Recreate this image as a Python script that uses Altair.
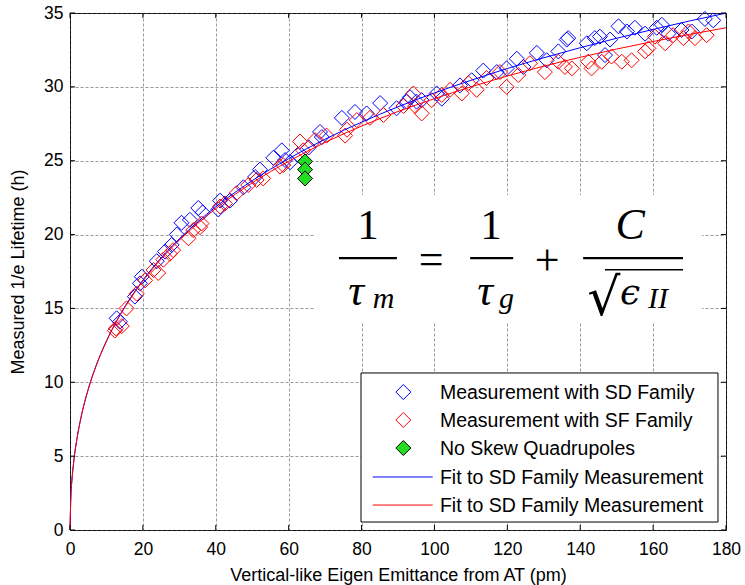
import altair as alt
import pandas as pd

# ---------------- data ----------------
sd_x = [12.8, 13.7, 17.8, 19.2, 19.7, 23.8, 26.1, 27.9, 29.3, 30.6, 32.9, 35.2, 36.4, 40.7, 41.2,
        43.9, 47.6, 50.8, 52.1, 55.8, 58.1, 59.0, 60.4, 62.5, 65.5, 68.6, 69.1, 74.6, 78.2, 81.4,
        85.1, 89.6, 92.4, 93.3, 95.1, 96.5, 100.6, 102.0, 107.0, 110.2, 113.4, 117.1, 119.8,
        122.6, 124.4, 128.1, 130.8, 134.0, 136.3, 136.7, 141.8, 144.0, 145.4, 146.8, 148.2,
        150.5, 152.8, 155.0, 157.8, 161.0, 162.4, 164.2, 167.8, 170.6, 174.2, 176.5]
sd_y = [14.33, 14.1, 15.8, 16.7, 17.15, 18.2, 18.85, 19.3, 20.0, 20.8, 21.0, 21.8, 21.5, 21.7, 22.3,
        22.3, 23.2, 23.9, 24.4, 25.2, 25.7, 25.05, 24.9, 25.4, 25.9, 26.95, 26.6, 27.9, 28.3, 28.2,
        28.9, 28.55, 29.0, 29.3, 29.0, 29.1, 29.55, 29.2, 30.1, 30.45, 31.1, 31.0, 31.25,
        31.9, 31.35, 32.3, 31.8, 32.4, 33.2, 33.3, 32.95, 33.3, 33.4, 32.15, 33.2,
        34.1, 33.75, 34.0, 33.6, 34.0, 34.2, 33.6, 33.85, 33.75, 34.6, 34.5]

sf_x = [12.3, 12.6, 14.2, 15.5, 18.3, 20.6, 22.9, 24.2, 25.6, 27.4, 28.3, 32.5, 33.8, 35.7, 36.1,
        41.2, 42.5, 45.7, 48.9, 51.2, 53.0, 57.6, 58.5, 63.1, 64.0, 67.2, 70.4, 75.5, 76.0, 78.7,
        82.3, 86.0, 91.5, 94.2, 94.7, 96.5, 99.2, 102.0, 104.3, 107.5, 109.3, 111.6, 114.3,
        118.0, 119.8, 123.0, 126.2, 130.3, 134.0, 135.8, 137.7, 142.2, 143.1, 145.9, 148.6,
        151.4, 154.1, 157.8, 158.7, 160.5, 163.3, 165.5, 168.3, 169.7, 171.5, 174.7]
sf_y = [13.5, 13.65, 13.8, 15.0, 16.0, 16.9, 17.6, 17.4, 18.3, 18.7, 18.95, 19.75, 20.3, 20.5, 20.75,
        21.9, 22.1, 22.8, 23.35, 23.7, 23.8, 24.6, 24.7, 26.3, 25.7, 26.4, 26.7, 26.7, 27.1, 27.75,
        27.9, 28.1, 28.7, 29.55, 28.7, 28.2, 29.1, 29.45, 29.8, 29.55, 30.25, 29.8, 30.6,
        31.0, 30.0, 30.8, 31.6, 31.0, 31.7, 31.35, 31.25, 31.7, 31.25, 31.7, 32.05,
        31.7, 31.8, 32.4, 32.6, 33.4, 32.95, 33.5, 33.3, 33.75, 33.3, 33.5]

nsq_x = [64.5, 64.5, 64.5]
nsq_y = [24.95, 24.4, 23.8]

fit_x = [0, 0.25, 0.5, 1, 2, 3, 5, 7, 10, 13, 16, 20, 25, 30, 35, 40, 50, 60, 70, 80, 90,
         100, 110, 120, 130, 140, 150, 160, 170, 180]
fit_sd_y = [0, 2.36, 3.30, 4.58, 6.32, 7.60, 9.53, 11.02, 12.80, 14.26, 15.49, 16.91, 18.42,
            19.71, 20.85, 21.88, 23.65, 25.14, 26.46, 27.61, 28.65, 29.59, 30.44, 31.24, 31.97,
            32.65, 33.29, 33.89, 34.46, 34.99]
fit_sf_y = [0, 2.36, 3.30, 4.58, 6.31, 7.59, 9.51, 11.0, 12.77, 14.22, 15.44, 16.85, 18.35,
            19.62, 20.74, 21.76, 23.5, 24.96, 26.24, 27.34, 28.33, 29.2, 30.0, 30.73, 31.4,
            32.0, 32.56, 33.07, 33.55, 34.0]

x_ticks = [0, 20, 40, 60, 80, 100, 120, 140, 160, 180]
y_ticks = [0, 5, 10, 15, 20, 25, 30, 35]

legend_labels = ["Measurement with SD Family", "Measurement with SF Family",
                 "No Skew Quadrupoles", "Fit to SD Family Measurement",
                 "Fit to SD Family Measurement"]

x_title = "Vertical-like Eigen Emittance from AT (pm)"
y_title = "Measured 1/e Lifetime (h)"

BLUE = "#0000ff"
RED = "#ff0000"
GREEN = "#22dd22"
SANS = "Liberation Sans"
W, H = 656, 517
PT = 225  # marker area

# ---------------- scales / axes ----------------
XS = alt.Scale(domain=[0, 180], nice=False, zero=False)
YS = alt.Scale(domain=[0, 35], nice=False, zero=False)
xaxis = alt.Axis(title=x_title, values=x_ticks, format="d", grid=True, ticks=False, tickSize=0,
                 domain=False, labelPadding=10, labelFontSize=17.5, labelFont=SANS,
                 labelColor="black", titleFont=SANS, titleFontSize=18, titleFontWeight="normal",
                 titleColor="black", titleY=50, titleBaseline="alphabetic", labelFlush=False)
yaxis = alt.Axis(title=y_title, values=y_ticks, format="d", grid=True, ticks=False, tickSize=0,
                 domain=False, labelPadding=7, labelFontSize=17.5, labelFont=SANS,
                 labelColor="black", titleFont=SANS, titleFontSize=18, titleFontWeight="normal",
                 titleColor="black", titleX=-52, titleY=H / 2, titleBaseline="middle",
                 titleAngle=-90, labelFlush=False)


def X(f="x"):
    return alt.X(f, type="quantitative", scale=XS, axis=xaxis)


def Y(f="y"):
    return alt.Y(f, type="quantitative", scale=YS, axis=yaxis)


def df(**kw):
    return pd.DataFrame(kw)


layers = []

# white box behind the formula
layers.append(alt.Chart(df(x=[67.2], x2=[173.4], y=[14.08], y2=[22.68])).mark_rect(
    fill="white", stroke=None).encode(x=X(), x2="x2", y=Y(), y2="y2"))

# data
layers.append(alt.Chart(df(x=sd_x, y=sd_y)).mark_point(
    shape="diamond", filled=False, color=BLUE, size=PT, strokeWidth=1, opacity=1
).encode(x=X(), y=Y()))
layers.append(alt.Chart(df(x=sf_x, y=sf_y)).mark_point(
    shape="diamond", filled=False, color=RED, size=PT, strokeWidth=1, opacity=1
).encode(x=X(), y=Y()))
layers.append(alt.Chart(df(x=nsq_x, y=nsq_y)).mark_point(
    shape="diamond", filled=True, fill=GREEN, stroke="black", size=PT, strokeWidth=1, opacity=1
).encode(x=X(), y=Y()))
layers.append(alt.Chart(df(x=fit_x, y=fit_sd_y)).mark_line(
    color=BLUE, strokeWidth=1, interpolate="monotone").encode(x=X(), y=Y()))
layers.append(alt.Chart(df(x=fit_x, y=fit_sf_y)).mark_line(
    color=RED, strokeWidth=1, interpolate="monotone").encode(x=X(), y=Y()))

# inward ticks on all four sides
tx = df(x=x_ticks)
ty = df(y=y_ticks)
layers.append(alt.Chart(tx).mark_rule(color="black", strokeWidth=1).encode(
    x=X(), y=alt.value(H), y2=alt.value(H - 5)))
layers.append(alt.Chart(tx).mark_rule(color="black", strokeWidth=1).encode(
    x=X(), y=alt.value(0), y2=alt.value(5)))
layers.append(alt.Chart(ty).mark_rule(color="black", strokeWidth=1).encode(
    y=Y(), x=alt.value(0), x2=alt.value(5)))
layers.append(alt.Chart(ty).mark_rule(color="black", strokeWidth=1).encode(
    y=Y(), x=alt.value(W - 5), x2=alt.value(W)))

# formula: fraction bars and radical overline
layers.append(alt.Chart(df(x=[73.8, 109.8, 140.8], x2=[89.7, 121.6, 168.2],
                           y=[18.41, 18.41, 18.41])).mark_rule(color="black", strokeWidth=2.2)
              .encode(x=X(), x2="x2", y=Y()))
layers.append(alt.Chart(df(x=[146.8], x2=[168.2], y=[17.62])).mark_rule(
    color="black", strokeWidth=1.6).encode(x=X(), x2="x2", y=Y()))


def txt(t, x, y, size, font="Liberation Serif", style="normal", align="center"):
    return alt.Chart(df(x=x, y=y, t=t)).mark_text(
        font=font, fontSize=size, fontStyle=style, align=align, baseline="alphabetic",
        color="black").encode(x=X(), y=Y(), text="t:N")


layers.append(txt(["1", "1"], [81.8, 115.5], [19.7, 19.7], 43))
layers.append(txt(["=", "+"], [99.1, 130.9], [17.35, 17.25], 44))
layers.append(txt(["\u03c4", "\u03c4", "C"], [78.5, 113.9, 153.7], [15.23, 15.23, 19.7], 44,
                  style="italic"))
layers.append(txt(["m", "g"], [83.1, 117.7], [15.05, 15.05], 30,
                  style="italic", align="left"))
layers.append(txt(["II"], [158.6], [15.05], 30, style="italic", align="left"))
layers.append(txt(["\u03f5"], [150.9], [15.3], 36, font="DejaVu Serif", style="italic",
                  align="left"))
layers.append(txt(["\u221a"], [141.9], [14.55], 52, font="DejaVu Serif", align="left"))

# legend
layers.append(alt.Chart(df(x=[79.85], x2=[177.8], y=[0.54], y2=[10.63])).mark_rect(
    fill="white", stroke="black", strokeWidth=1).encode(x=X(), x2="x2", y=Y(), y2="y2"))
row_y = [9.34, 7.45, 5.55, 3.59, 1.69]
layers.append(alt.Chart(df(x=[91.46], y=[row_y[0]])).mark_point(
    shape="diamond", filled=False, color=BLUE, size=PT, strokeWidth=1, opacity=1
).encode(x=X(), y=Y()))
layers.append(alt.Chart(df(x=[91.46], y=[row_y[1]])).mark_point(
    shape="diamond", filled=False, color=RED, size=PT, strokeWidth=1, opacity=1
).encode(x=X(), y=Y()))
layers.append(alt.Chart(df(x=[91.46], y=[row_y[2]])).mark_point(
    shape="diamond", filled=True, fill=GREEN, stroke="black", size=PT, strokeWidth=1,
    opacity=1).encode(x=X(), y=Y()))
layers.append(alt.Chart(df(x=[83.06], x2=[99.52], y=[row_y[3]])).mark_rule(
    color=BLUE, strokeWidth=1).encode(x=X(), x2="x2", y=Y()))
layers.append(alt.Chart(df(x=[83.06], x2=[99.52], y=[row_y[4]])).mark_rule(
    color=RED, strokeWidth=1).encode(x=X(), x2="x2", y=Y()))
layers.append(alt.Chart(df(x=[101.5] * 5, y=row_y, t=legend_labels)).mark_text(
    font=SANS, fontSize=19.5, align="left", baseline="middle", color="black", dy=1
).encode(x=X(), y=Y(), text="t:N"))

chart = alt.layer(*layers).properties(
    width=W, height=H,
    autosize=alt.AutoSizeParams(type="none"),
    padding={"left": 70, "top": 13, "right": 19, "bottom": 55},
    background="white",
).configure_view(stroke="black", strokeWidth=1).configure_axis(
    gridColor="#555555", gridOpacity=0.6, gridDash=[3, 2], gridWidth=1
)

chart.save("out.html", embed_options={"renderer": "svg", "actions": False})
